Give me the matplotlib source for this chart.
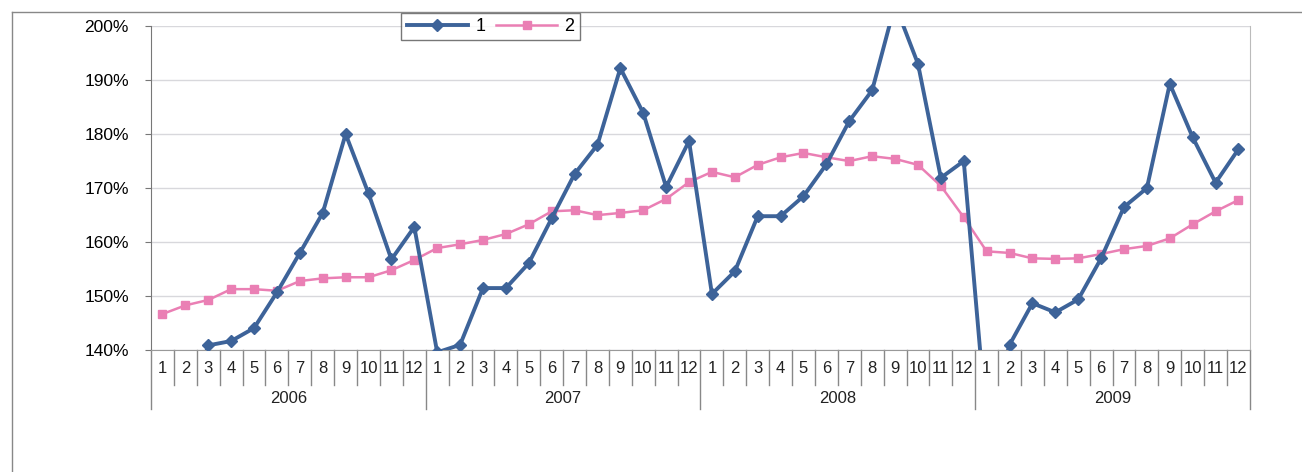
import matplotlib
matplotlib.use("Agg")
import matplotlib.pyplot as plt
import numpy as np
from matplotlib.lines import Line2D
from matplotlib.ticker import FuncFormatter

plt.rcParams["font.family"] = ["Liberation Sans", "DejaVu Sans"]

# ---------------------------------------------------------------------
# Data (percent), monthly 2006-2009
# ---------------------------------------------------------------------
years = ["2006", "2007", "2008", "2009"]
months = [str(m) for m in range(1, 13)]

series_1 = [
    134.0, 128.0, 140.9, 141.7, 144.1, 150.7, 158.0, 165.4, 180.0, 169.0, 156.8, 162.8,
    139.6, 141.0, 151.5, 151.5, 156.1, 164.4, 172.6, 178.0, 192.2, 183.9, 170.2, 178.7,
    150.4, 154.6, 164.8, 164.8, 168.5, 174.4, 182.4, 188.1, 204.0, 193.0, 171.9, 175.0,
    126.0, 141.0, 148.7, 147.0, 149.4, 157.0, 166.5, 170.0, 189.3, 179.4, 171.0, 177.2,
]
series_2 = [
    146.7, 148.3, 149.3, 151.3, 151.3, 151.0, 152.8, 153.3, 153.5, 153.5, 154.8, 156.7,
    158.9, 159.6, 160.4, 161.5, 163.3, 165.7, 165.9, 165.0, 165.4, 165.9, 168.0, 171.1,
    173.0, 172.0, 174.3, 175.7, 176.5, 175.7, 175.0, 175.9, 175.4, 174.3, 170.4, 164.6,
    158.3, 158.0, 157.0, 156.9, 157.0, 157.8, 158.7, 159.3, 160.7, 163.3, 165.7, 167.8,
]

BLUE = "#3d6399"
PINK = "#ea7fb4"

fig = plt.figure(figsize=(13.02, 4.72), dpi=100)
ax = fig.add_axes([0.116, 0.258, 0.844, 0.687])

x = np.arange(len(series_1))
ax.plot(x, series_1, color=BLUE, lw=2.8, marker="D", ms=6, label="1", zorder=4)
ax.plot(x, series_2, color=PINK, lw=1.8, marker="s", ms=6, label="2", zorder=3)

ax.set_xlim(-0.5, len(x) - 0.5)
ax.set_ylim(140, 200)
ax.set_yticks(np.arange(140, 201, 10))
ax.yaxis.set_major_formatter(FuncFormatter(lambda v, p: f"{v:.0f}%"))
ax.grid(axis="y", color="#d8d8dc", lw=1)
ax.set_axisbelow(True)
ax.tick_params(axis="y", labelsize=12.5, length=4, color="#777777", pad=12)
ax.set_xticks([])

ax.spines["top"].set_visible(False)
ax.spines["left"].set_color("#777777")
ax.spines["right"].set_color("#bbbbbb")
ax.spines["bottom"].set_color("#999999")

# two-level category axis
trans = ax.get_xaxis_transform()
n_months = len(months)
for i in range(len(x)):
    ax.text(x[i], -0.055, months[i % n_months], transform=trans, ha="center",
            va="center", fontsize=12, color="#222222", clip_on=False)
for i in range(len(x) + 1):
    is_year = i % n_months == 0
    y_low = -0.18 if is_year else -0.108
    ax.add_line(Line2D([i - 0.5, i - 0.5], [0, y_low], transform=trans,
                       color="#888888", lw=1, clip_on=False))
for k, yr in enumerate(years):
    mid = k * n_months + (n_months - 1) / 2
    ax.text(mid, -0.148, yr, transform=trans, ha="center", va="center",
            fontsize=12, color="#222222", clip_on=False)

leg = ax.legend(loc="upper center", bbox_to_anchor=(0.309, 1.041), ncol=2,
                frameon=True, fancybox=False, edgecolor="#555555",
                fontsize=13, handlelength=3.4, columnspacing=0.6,
                borderpad=0.3, handletextpad=0.4, borderaxespad=0)
leg.get_frame().set_linewidth(1)

# outer chart frame
fig.add_artist(Line2D([12 / 1302, 1.0], [1 - 12 / 472, 1 - 12 / 472],
                      transform=fig.transFigure, color="#888888", lw=1))
fig.add_artist(Line2D([12 / 1302, 12 / 1302], [0, 1 - 12 / 472],
                      transform=fig.transFigure, color="#888888", lw=1))

fig.savefig("out.png", dpi=100)
